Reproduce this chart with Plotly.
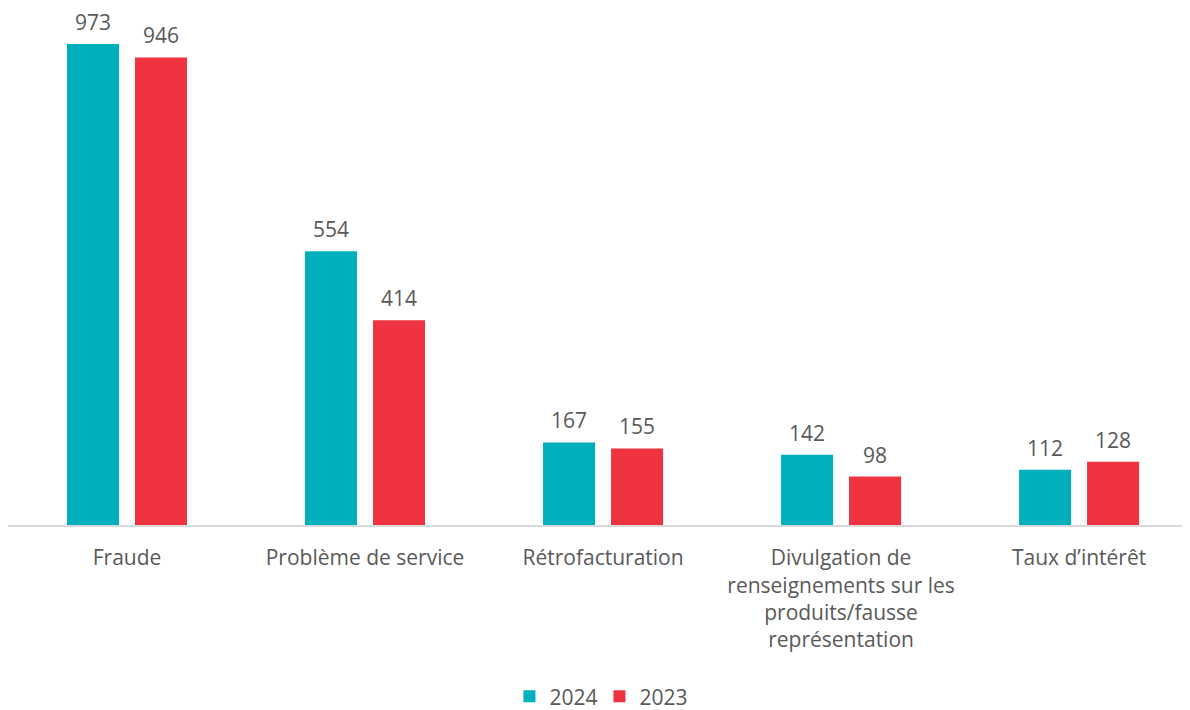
import plotly.graph_objects as go

categories = ["Fraude", "Problème de service", "Rétrofacturation",
              "Divulgation de<br>renseignements sur les<br>produits/fausse<br>représentation",
              "Taux d’intérêt"]
values_2024 = [973, 554, 167, 142, 112]
values_2023 = [946, 414, 155, 98, 128]

teal = "#00AFBC"
red = "#EF3340"
text_color = "#595959"
font_family = "Open Sans"
fs = 21

fig = go.Figure()
fig.add_trace(go.Bar(x=categories, y=values_2024, name="2024", marker_color=teal,
                     marker_line_width=0))
fig.add_trace(go.Bar(x=categories, y=values_2023, name="2023", marker_color=red,
                     marker_line_width=0))

annotations = []
for cat, v in zip(categories, values_2024):
    annotations.append(dict(x=cat, y=v, text=str(v), xref="x", yref="y", showarrow=False,
                            xshift=-34, yanchor="bottom", yshift=6,
                            font=dict(size=fs, color=text_color, family=font_family)))
for cat, v in zip(categories, values_2023):
    annotations.append(dict(x=cat, y=v, text=str(v), xref="x", yref="y", showarrow=False,
                            xshift=34, yanchor="bottom", yshift=6,
                            font=dict(size=fs, color=text_color, family=font_family)))

fig.update_layout(
    width=1190, height=710,
    margin=dict(l=0, r=13, t=0, b=193, autoexpand=False),
    paper_bgcolor="white", plot_bgcolor="white",
    barmode="group", bargap=0.4286, bargroupgap=0.235,
    font=dict(family=font_family, size=fs, color=text_color),
    showlegend=True,
    legend=dict(orientation="h", x=0.5025, xanchor="center", yref="container", y=0.03,
                yanchor="middle", font=dict(size=fs, color=text_color), itemwidth=30,
                entrywidth=45, entrywidthmode="pixels", traceorder="normal"),
    annotations=annotations,
)
fig.update_xaxes(range=[-0.5, 4.445], showline=True, linecolor="#D9D9D9", linewidth=2,
                 ticks="", tickfont=dict(size=fs, color=text_color), ticklabelstandoff=13,
                 automargin=False)
fig.update_yaxes(range=[0, 1046], showgrid=False, showticklabels=False, zeroline=False,
                 automargin=False)

fig.write_html("out.html")
